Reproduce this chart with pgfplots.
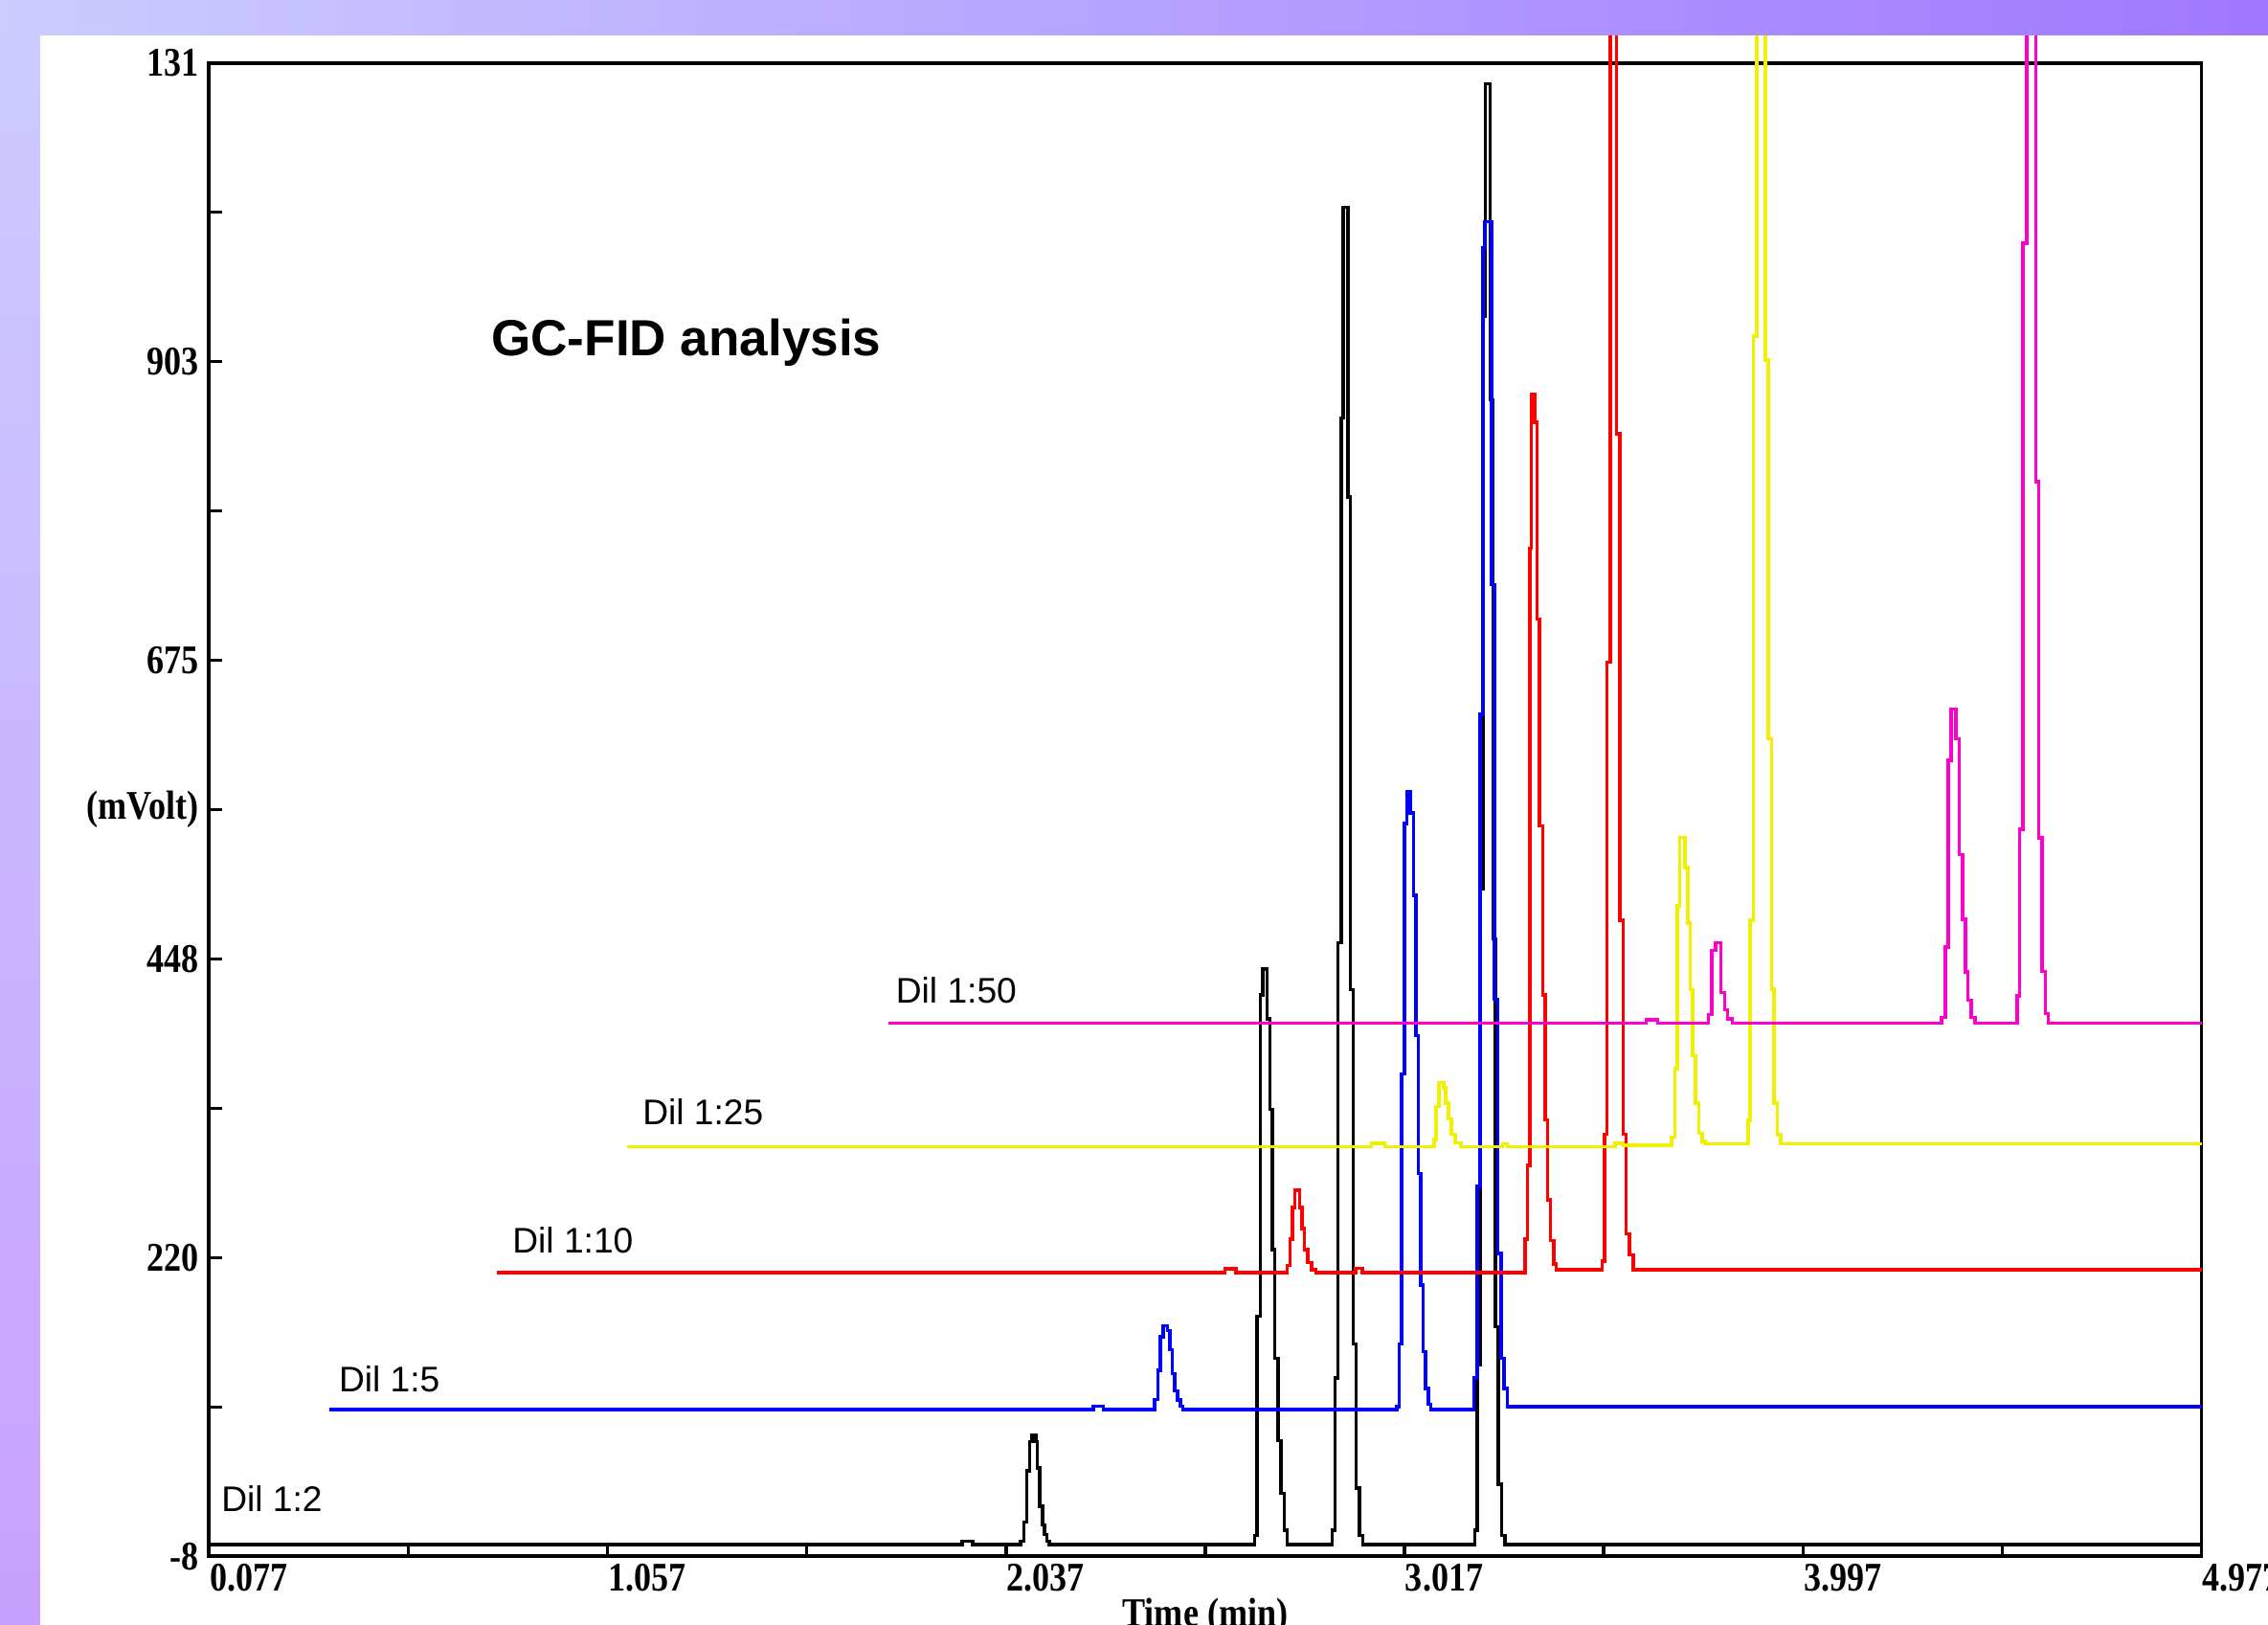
\documentclass[border=0pt]{standalone}
\usepackage{fontspec}
\setmainfont{Liberation Serif}
\newfontfamily\arial{Liberation Sans}
\usepackage{pgfplots}
\pgfplotsset{compat=1.18}

\definecolor{bgA}{RGB}{204,204,255}
\definecolor{bgB}{RGB}{160,120,255}
\definecolor{bgC}{RGB}{200,160,255}
\definecolor{trYellow}{RGB}{240,240,0}
\definecolor{trMagenta}{RGB}{255,0,204}

\begin{document}
\begin{tikzpicture}
\useasboundingbox (0,0) rectangle (15.68,11.23);
\clip (0,0) rectangle (15.68,11.23);
% backdrop of the slide
\shade[top color=bgA, bottom color=bgC] (0,0) rectangle (0.28,11.23);
\fill[white] (0.28,0) rectangle (15.68,10.987);

\begin{axis}[
    at={(1.445cm,0.473cm)}, anchor=south west,
    scale only axis, width=13.775cm, height=10.322cm,
    xmin=0.077, xmax=4.977, ymin=-8, ymax=1131,
    clip=false,
    axis line style={line width=0.7pt},
    tick align=inside, xtick pos=bottom, ytick pos=left,
    major tick length=0.09cm, minor tick length=0.09cm,
    every tick/.style={black, line width=0.65pt},
    xtick={0.077,1.057,2.037,3.017,3.997,4.977},
    xticklabels={0.077,1.057,2.037,3.017,3.997,4.977},
    minor xtick={0.567,1.547,2.527,3.507,4.487},
    ytick={-8,219.8,447.6,561.5,675.4,903.2,1131},
    yticklabels={-8,220,448,(mVolt),675,903,131},
    minor ytick={105.9,333.7,789.3,1017.1},
    ticklabel style={font=\bfseries\fontsize{8}{9}\selectfont, xscale=0.85},
    xticklabel style={anchor=north west, inner sep=0pt, yshift=-0.045cm},
    yticklabel style={anchor=east, inner sep=0pt, xshift=-0.075cm},
    xlabel={Time (min)},
    xlabel style={at={(axis description cs:0.5,0)}, anchor=north, inner sep=0pt,
                  yshift=-0.28cm, font=\bfseries\fontsize{8}{9}\selectfont, xscale=0.85},
    every axis plot/.append style={const plot, line width=0.65pt, mark=none},
]

% Dil 1:2
\addplot[black] coordinates {
 (0.077,1) (1.929,3.4) (1.955,1)
 (2.073,3.5) (2.0809,18.1) (2.0887,57) (2.095,79.4) (2.1005,84.3) (2.1107,79.4)
 (2.1146,59.5) (2.1201,30.3) (2.1264,15.7) (2.1319,8.4) (2.1374,3.5) (2.1437,1)
 (2.6489,8) (2.6544,175) (2.6622,420) (2.6685,440) (2.6795,402) (2.6858,333)
 (2.6921,226) (2.6983,143) (2.7062,80) (2.7133,40) (2.7211,12) (2.729,1)
 (2.8396,12) (2.8459,128) (2.8537,460) (2.8616,860) (2.8663,1021) (2.8775,800)
 (2.8845,424) (2.891,154) (2.898,44) (2.906,8) (2.914,1)
 (3.1896,12) (3.1959,138) (3.2037,501) (3.2116,938) (3.2155,1115) (3.2275,874)
 (3.2345,463) (3.241,167) (3.248,47) (3.256,8) (3.264,1)
 (4.977,1)
};
% Dil 1:5
\addplot[blue] coordinates {
 (0.372,104) (2.252,106.5) (2.276,104)
 (2.4027,111.4) (2.4106,133.7) (2.4168,159.3) (2.4239,167.9) (2.4341,164.2)
 (2.4404,149.6) (2.4459,131.3) (2.4522,118) (2.4592,111.1) (2.4655,106.3) (2.4718,104)
 (2.998,106) (3.0042,154) (3.0097,360) (3.0168,551) (3.0231,575) (3.0309,559)
 (3.0388,496) (3.0451,389) (3.0506,284) (3.0568,199) (3.0623,148) (3.0686,120)
 (3.0757,108) (3.0819,104)
 (3.1877,128) (3.1955,274) (3.2034,634) (3.2097,990) (3.2151,1010) (3.2308,733)
 (3.2387,417) (3.2466,223) (3.2544,143) (3.2622,120) (3.2701,106)
 (4.977,106)
};
% Dil 1:10
\addplot[red] coordinates {
 (0.785,208.5) (2.575,211.3) (2.603,208.5)
 (2.7281,214) (2.7359,234) (2.7414,258) (2.7477,271) (2.7595,258) (2.765,242)
 (2.7713,226) (2.7791,216) (2.7885,210.5) (2.7987,208.5)
 (2.897,211.5) (2.913,208.5)
 (3.3134,234) (3.3189,290) (3.3252,761) (3.3291,878) (3.3369,857) (3.3432,707)
 (3.3487,549) (3.3566,420) (3.3628,325) (3.3683,264) (3.3762,233) (3.384,215) (3.3903,210.5)
 (3.5027,217) (3.509,314) (3.5153,674) (3.5231,2500) (3.5389,848) (3.5467,477)
 (3.5546,314) (3.5624,238) (3.5703,222) (3.5797,210.5)
 (4.977,210.5)
};
% Dil 1:25
\addplot[trYellow] coordinates {
 (1.105,304.5) (2.936,307) (2.968,304.5)
 (3.0894,309.8) (3.0949,335.2) (3.1012,353.4) (3.1129,349.4) (3.1184,337.5)
 (3.1247,325.7) (3.1326,313.8) (3.142,307.5) (3.1561,304.5)
 (3.258,306.5) (3.270,304.5) (3.535,307) (3.555,305.5)
 (3.6741,311.6) (3.6819,363.8) (3.6882,488) (3.6937,540.3) (3.7071,517.4) (3.7133,475)
 (3.7196,424) (3.7251,373.6) (3.733,337.7) (3.7408,314.8) (3.7487,308.3) (3.7565,306.5)
 (3.8616,324.6) (3.8671,477) (3.8749,922.6) (3.8828,2500) (3.904,904.3) (3.9118,615.4)
 (3.9197,424.6) (3.926,337.7) (3.9338,313.6) (3.9417,306.5)
 (4.977,306.5)
};
% Dil 1:50
\addplot[trMagenta] coordinates {
 (1.749,398.5) (3.612,401) (3.640,398.5)
 (3.765,405) (3.7729,454) (3.7823,460) (3.7949,422) (3.8043,409) (3.8121,402) (3.8239,398.5)
 (4.338,403) (4.3474,456.6) (4.3537,599) (4.3615,638.3) (4.3733,615.5) (4.3811,527)
 (4.389,478) (4.3968,437.7) (4.4031,416) (4.411,403) (4.4204,398.5)
 (4.5239,419.5) (4.5302,546.5) (4.538,993.5) (4.5474,2500) (4.5694,811.5) (4.5773,540)
 (4.5851,438) (4.593,406) (4.6008,398.5)
 (4.977,398.5)
};

\node[anchor=base west, inner sep=0pt, font=\arial\fontsize{7}{8}\selectfont]
  at (axis cs:1.764,414.1) {Dil 1:50};
\node[anchor=base west, inner sep=0pt, font=\arial\fontsize{7}{8}\selectfont]
  at (axis cs:1.141,321.3) {Dil 1:25};
\node[anchor=base west, inner sep=0pt, font=\arial\fontsize{7}{8}\selectfont]
  at (axis cs:0.821,223.2) {Dil 1:10};
\node[anchor=base west, inner sep=0pt, font=\arial\fontsize{7}{8}\selectfont]
  at (axis cs:0.394,117.4) {Dil 1:5};
\node[anchor=base west, inner sep=0pt, font=\arial\fontsize{7}{8}\selectfont]
  at (axis cs:0.105,25.8) {Dil 1:2};
\node[anchor=base west, inner sep=0pt, font=\arial\bfseries\fontsize{10}{12}\selectfont]
  at (axis cs:0.769,907.8) {GC-FID analysis};
\end{axis}

% top band of the slide, over the peaks that run off scale
\shade[left color=bgA, right color=bgB] (0,10.987) rectangle (15.68,11.23);
\end{tikzpicture}
\end{document}
